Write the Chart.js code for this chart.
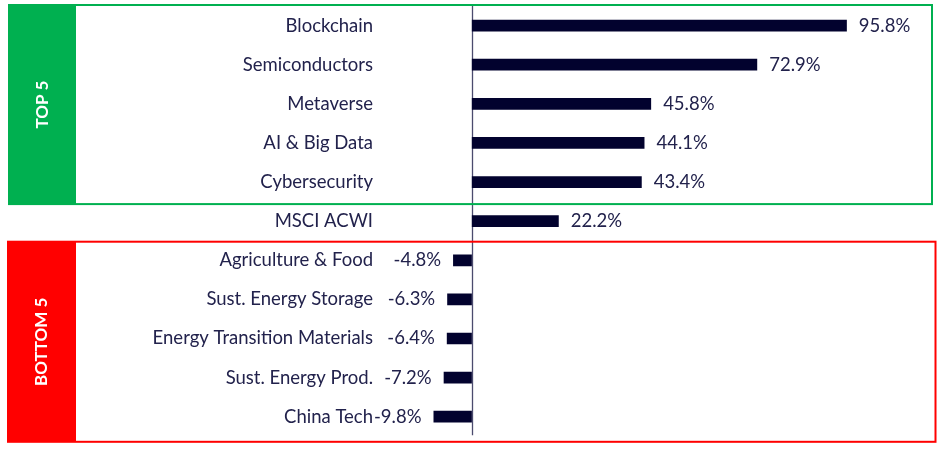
<!DOCTYPE html>
<html>
<head>
<meta charset="utf-8">
<script src="https://cdn.jsdelivr.net/npm/chart.js@4.4.1/dist/chart.umd.min.js"></script>
<style>
html,body{margin:0;padding:0;background:#fff;}
#wrap{width:940px;height:449px;position:relative;}
</style>
</head>
<body>
<div id="wrap"><canvas id="c" width="940" height="449"></canvas></div>
<script>
const categories = ["Blockchain","Semiconductors","Metaverse","AI & Big Data","Cybersecurity","MSCI ACWI","Agriculture & Food","Sust. Energy Storage","Energy Transition Materials","Sust. Energy Prod.","China Tech"];
const values = [95.8, 72.9, 45.8, 44.1, 43.4, 22.2, -4.8, -6.3, -6.4, -7.2, -9.8];
const groupLabels = ["TOP 5", "BOTTOM 5"];
const groupRanges = [[0,4],[6,10]];
const groupColors = ["#00b050", "#ff0000"];

const TEXT = "#22224c";
const FONT = "Lato";
const FSIZE = 18.5;

const decor = {
  id: 'decor',
  beforeDatasetsDraw(chart) {
    const ctx = chart.ctx, x = chart.scales.x, ca = chart.chartArea;
    const zx = Math.round(x.getPixelForValue(0)) + 0.5;
    ctx.save();
    ctx.strokeStyle = "#4b4b6e";
    ctx.lineWidth = 1.3;
    ctx.beginPath();
    ctx.moveTo(zx, ca.top);
    ctx.lineTo(zx, ca.bottom - 1);
    ctx.stroke();
    ctx.restore();
  },
  afterDatasetsDraw(chart) {
    const ctx = chart.ctx, y = chart.scales.y;
    const step = y.getPixelForValue(1) - y.getPixelForValue(0);
    const boxes = [
      {left: 9, right: 932, top: y.getPixelForValue(groupRanges[0][0]) - step/2 - 1, bottom: y.getPixelForValue(groupRanges[0][1]) + step/2 + 2.5},
      {left: 8, right: 935.5, top: y.getPixelForValue(groupRanges[1][0]) - step/2 + 1, bottom: y.getPixelForValue(groupRanges[1][1]) + step/2 + 5.5}
    ];
    ctx.save();
    boxes.forEach((b, i) => {
      ctx.fillStyle = groupColors[i];
      ctx.fillRect(b.left, b.top, 76 - b.left, b.bottom - b.top);
      ctx.strokeStyle = groupColors[i];
      ctx.lineWidth = 2;
      ctx.strokeRect(b.left, b.top, b.right - b.left, b.bottom - b.top);
      ctx.save();
      ctx.translate((b.left + 76) / 2, (b.top + b.bottom) / 2);
      ctx.rotate(-Math.PI / 2);
      ctx.fillStyle = "#ffffff";
      ctx.font = "bold 17px " + FONT;
      ctx.textAlign = "center";
      ctx.textBaseline = "middle";
      ctx.fillText(groupLabels[i], 0, 0);
      ctx.restore();
    });
    ctx.fillStyle = TEXT;
    ctx.font = FSIZE + "px " + FONT;
    ctx.textBaseline = "middle";
    const meta = chart.getDatasetMeta(0);
    meta.data.forEach((bar, i) => {
      const v = values[i];
      const txt = v.toFixed(1) + "%";
      if (v >= 0) {
        ctx.textAlign = "left";
        ctx.fillText(txt, bar.x + 12, bar.y);
      } else {
        ctx.textAlign = "right";
        ctx.fillText(txt, bar.x - 12, bar.y);
      }
    });
    ctx.restore();
  }
};

new Chart(document.getElementById('c'), {
  type: 'bar',
  data: {
    labels: categories,
    datasets: [{
      data: values,
      backgroundColor: "#02022e",
      borderWidth: 0,
      barPercentage: 0.3,
      categoryPercentage: 1
    }]
  },
  options: {
    indexAxis: 'y',
    responsive: false,
    animation: false,
    devicePixelRatio: 1,
    layout: {padding: {top: 6, bottom: 12.7, right: 18, left: 0}},
    plugins: {legend: {display: false}, tooltip: {enabled: false}},
    scales: {
      x: {min: -25, max: 115, display: false},
      y: {
        grid: {display: false, drawTicks: false},
        border: {display: false},
        ticks: {color: TEXT, font: {family: FONT, size: FSIZE}, padding: 1},
        afterFit(scale) { scale.width = 374; scale.paddingTop = 0; scale.paddingBottom = 0; }
      }
    }
  },
  plugins: [decor]
});
</script>
</body>
</html>
